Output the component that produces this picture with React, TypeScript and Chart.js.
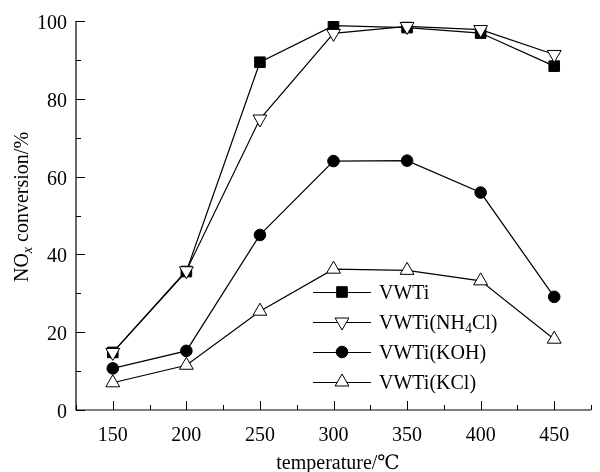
import React, { useEffect, useRef } from "react";
import { Chart, registerables } from "chart.js";

Chart.register(...registerables);

const temperatures = [150, 200, 250, 300, 350, 400, 450];
const vwti = [14.8, 35.6, 89.4, 98.8, 98.3, 96.9, 88.4];
const vwtiNH4Cl = [14.8, 35.8, 74.8, 96.8, 98.6, 97.8, 91.4];
const vwtiKOH = [10.7, 15.2, 45.0, 64.0, 64.1, 55.9, 29.1];
const vwtiKCl = [7.0, 11.5, 25.4, 36.2, 35.9, 33.2, 18.2];
const xMajorTicks = [150, 200, 250, 300, 350, 400, 450];
const yMajorTicks = [0, 20, 40, 60, 80, 100];

const FONT = "Liberation Serif, DejaVu Serif, serif";

type LegendItem = { parts: { t: string; sub?: boolean }[]; style: string; fill: boolean; rot: number };
const legendItems: LegendItem[] = [
  { parts: [{ t: "VWTi" }], style: "rect", fill: true, rot: 0 },
  { parts: [{ t: "VWTi(NH" }, { t: "4", sub: true }, { t: "Cl)" }], style: "triangle", fill: false, rot: 180 },
  { parts: [{ t: "VWTi(KOH)" }], style: "circle", fill: true, rot: 0 },
  { parts: [{ t: "VWTi(KCl)" }], style: "triangle", fill: false, rot: 0 },
];

function drawMarker(ctx: CanvasRenderingContext2D, style: string, x: number, y: number, fill: boolean, rot: number) {
  ctx.save();
  ctx.beginPath();
  if (style === "rect") {
    const s = 7.5 * Math.SQRT1_2;
    ctx.rect(x - s, y - s, 2 * s, 2 * s);
  } else if (style === "circle") {
    ctx.arc(x, y, 5.8, 0, Math.PI * 2);
  } else {
    const r = 8;
    const a = (rot * Math.PI) / 180;
    for (let i = 0; i < 3; i++) {
      const ang = a + (i * 2 * Math.PI) / 3;
      const px = x + Math.sin(ang) * r;
      const py = y - Math.cos(ang) * r;
      if (i === 0) ctx.moveTo(px, py);
      else ctx.lineTo(px, py);
    }
    ctx.closePath();
  }
  ctx.fillStyle = fill ? "#000" : "#fff";
  ctx.fill();
  ctx.lineWidth = 1;
  ctx.strokeStyle = "#000";
  ctx.stroke();
  ctx.restore();
}

const decorPlugin = {
  id: "decor",
  afterDraw(chart: any) {
    const ctx: CanvasRenderingContext2D = chart.ctx;
    const xs = chart.scales.x;
    const ys = chart.scales.y;
    const { left, right, top, bottom } = chart.chartArea;
    ctx.save();
    ctx.strokeStyle = "#000";
    ctx.lineWidth = 1.2;
    ctx.beginPath();
    ctx.moveTo(left, top);
    ctx.lineTo(left, bottom);
    ctx.lineTo(right, bottom);
    ctx.stroke();
    ctx.lineWidth = 1;
    ctx.beginPath();
    for (let v = 125; v <= 475; v += 25) {
      const px = Math.round(xs.getPixelForValue(v)) + 0.5;
      const len = v % 50 === 0 ? 9 : 5;
      ctx.moveTo(px, bottom);
      ctx.lineTo(px, bottom - len);
    }
    for (let v = 0; v <= 100; v += 10) {
      const py = Math.round(ys.getPixelForValue(v)) + 0.5;
      const len = v % 20 === 0 ? 9 : 5;
      ctx.moveTo(left, py);
      ctx.lineTo(left + len, py);
    }
    ctx.stroke();

    // tick labels
    ctx.fillStyle = "#000";
    ctx.font = `20px ${FONT}`;
    ctx.textAlign = "center";
    ctx.textBaseline = "alphabetic";
    xMajorTicks.forEach((v) => {
      ctx.fillText(String(v), xs.getPixelForValue(v), bottom + 31);
    });
    ctx.textAlign = "right";
    yMajorTicks.forEach((v) => {
      ctx.fillText(String(v), left - 9, ys.getPixelForValue(v) + 8);
    });

    // x title
    ctx.textAlign = "center";
    ctx.textBaseline = "alphabetic";
    ctx.fillText("temperature/℃", 338, 469);

    // y title with subscript
    ctx.save();
    ctx.translate(21, 207);
    ctx.rotate(-Math.PI / 2);
    const p1 = "NO";
    const p3 = " conversion/%";
    ctx.font = `20px ${FONT}`;
    const w1 = ctx.measureText(p1).width;
    const w3 = ctx.measureText(p3).width;
    ctx.font = `italic 14px ${FONT}`;
    const w2 = ctx.measureText("x").width;
    const total = w1 + w2 + w3;
    let cx = -total / 2;
    ctx.textAlign = "left";
    ctx.textBaseline = "alphabetic";
    ctx.font = `20px ${FONT}`;
    ctx.fillText(p1, cx, 7);
    cx += w1;
    ctx.font = `italic 14px ${FONT}`;
    ctx.fillText("x", cx, 11);
    cx += w2;
    ctx.font = `20px ${FONT}`;
    ctx.fillText(p3, cx, 7);
    ctx.restore();

    // legend
    const rows = [292, 322, 352, 382];
    legendItems.forEach((it, i) => {
      const y = rows[i];
      ctx.beginPath();
      ctx.lineWidth = 1.2;
      ctx.moveTo(313, y + 0.5);
      ctx.lineTo(371, y + 0.5);
      ctx.stroke();
      drawMarker(ctx, it.style, 342, y, it.fill, it.rot);
      let tx = 379;
      ctx.fillStyle = "#000";
      ctx.textAlign = "left";
      ctx.textBaseline = "alphabetic";
      it.parts.forEach((p) => {
        ctx.font = p.sub ? `14px ${FONT}` : `20px ${FONT}`;
        ctx.fillText(p.t, tx, p.sub ? y + 11 : y + 7);
        tx += ctx.measureText(p.t).width;
      });
    });
    ctx.restore();
  },
};

function makeDataset(data: number[], style: string, fill: boolean, rot: number, radius: number) {
  return {
    data: temperatures.map((t, i) => ({ x: t, y: data[i] })),
    borderColor: "#000",
    borderWidth: 1.2,
    pointStyle: style,
    pointRadius: radius,
    pointRotation: rot,
    pointBackgroundColor: fill ? "#000" : "#fff",
    pointBorderColor: "#000",
    pointBorderWidth: 1,
    tension: 0,
    fill: false,
  };
}

export default function App() {
  const ref = useRef<HTMLCanvasElement>(null);
  useEffect(() => {
    if (!ref.current) return;
    const chart = new Chart(ref.current, {
      type: "line",
      data: {
        datasets: [
          makeDataset(vwtiKCl, "triangle", false, 0, 8),
          makeDataset(vwtiKOH, "circle", true, 0, 5.8),
          makeDataset(vwtiNH4Cl, "triangle", false, 180, 8),
          makeDataset(vwti, "rect", true, 0, 7.5),
        ] as any,
      },
      options: {
        responsive: false,
        animation: false,
        layout: { padding: { top: 21, right: 0, left: 0, bottom: 0 } },
        plugins: { legend: { display: false }, tooltip: { enabled: false } },
        scales: {
          x: {
            type: "linear",
            min: 125,
            max: 475,
            grid: { display: false, drawTicks: false },
            border: { display: false },
            ticks: { display: false, stepSize: 25 },
            afterFit: (s: any) => {
              s.height = 62;
            },
          },
          y: {
            min: 0,
            max: 100,
            grid: { display: false, drawTicks: false },
            border: { display: false },
            ticks: { display: false, stepSize: 20 },
            afterFit: (s: any) => {
              s.width = 76;
            },
          },
        },
      },
      plugins: [decorPlugin],
    });
    return () => chart.destroy();
  }, []);
  return (
    <div style={{ position: "fixed", left: 0, top: 0, width: 600, height: 472, background: "#fff" }}>
      <canvas ref={ref} width={600} height={472} style={{ display: "block" }} />
    </div>
  );
}
